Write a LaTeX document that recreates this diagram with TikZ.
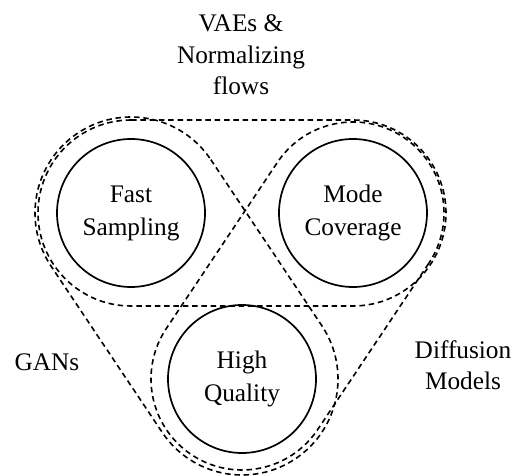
\documentclass[tikz,border=0pt]{standalone}
\usepackage{fontspec}
\setmainfont{Liberation Serif}
\begin{document}
\begin{tikzpicture}[x=1pt,y=1pt,
  txt/.style={font=\fontsize{25.3}{31.5}\selectfont, align=center, inner sep=0pt},
  prop/.style={circle, draw, line width=1.7pt, minimum size=148pt, inner sep=0pt,
    font=\fontsize{25.3}{33}\selectfont, align=center},
  hull/.style={draw, line width=1.6pt, dash pattern=on 5.5pt off 3.8pt}]
\useasboundingbox (0,0) rectangle (514,476);

% the three properties
\node[prop] (fs) at (131,263) {Fast\\Sampling};
\node[prop] (mc) at (353,263) {Mode\\Coverage};
\node[prop] (hq) at (242,97)  {High\\Quality};

% capsule around two properties: centre, angle, length, radius
\newcommand{\capsule}[4]{%
  \path[hull, shift={(#1)}, rotate=#2]
    (0,#4) -- (#3,#4) arc[start angle=90,end angle=-90,radius=#4]
    -- (0,-#4) arc[start angle=270,end angle=90,radius=#4] -- cycle;}

\capsule{fs.center}{0}{222}{93}
\capsule{fs.center}{-56.23}{199.7}{96}
\capsule{mc.center}{-123.77}{199.7}{91}

% model families
\node[txt] (vae) at (241,421) {VAEs \&\\Normalizing\\flows};
\node[txt] (gan) at (47,114) {GANs};
\node[txt] (dif) at (463,111) {Diffusion\\Models};
\end{tikzpicture}
\end{document}
